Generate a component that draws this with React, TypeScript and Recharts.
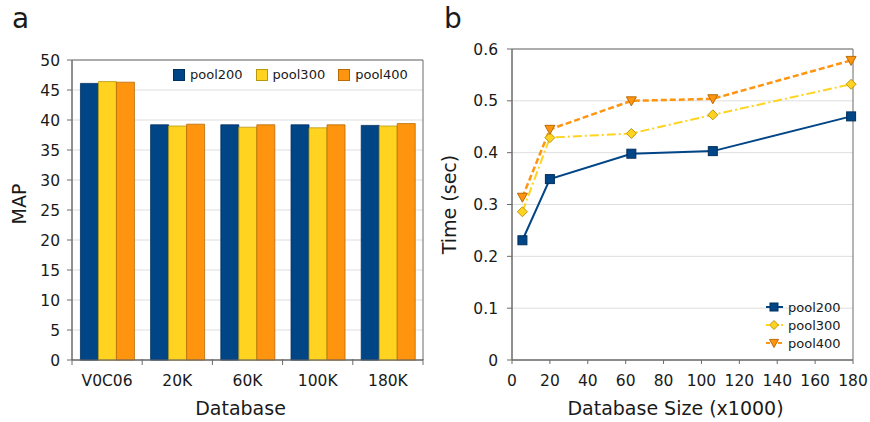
import React from "react"
import {
  BarChart,
  Bar,
  LineChart,
  Line,
  XAxis,
  YAxis,
  CartesianGrid,
  Legend,
  ReferenceArea,
} from "recharts"

// panel a: MAP per database
const databases = ["V0C06", "20K", "60K", "100K", "180K"]
const mapPool200 = [46.1, 39.2, 39.2, 39.2, 39.1]
const mapPool300 = [46.4, 39.0, 38.8, 38.7, 39.0]
const mapPool400 = [46.3, 39.3, 39.2, 39.2, 39.4]
const mapTicks = [0, 5, 10, 15, 20, 25, 30, 35, 40, 45, 50]

// panel b: query time vs database size (x1000)
const dbSizes = [5.5, 20, 63, 106, 179]
const timePool200 = [0.231, 0.349, 0.398, 0.403, 0.47]
const timePool300 = [0.286, 0.429, 0.437, 0.473, 0.532]
const timePool400 = [0.314, 0.445, 0.5, 0.504, 0.578]
const timeTicks = [0, 0.1, 0.2, 0.3, 0.4, 0.5, 0.6]
const sizeTicks = [0, 20, 40, 60, 80, 100, 120, 140, 160, 180]

const seriesNames = ["pool200", "pool300", "pool400"]

const BLUE = "#004586"
const YELLOW = "#ffd320"
const ORANGE = "#ff950e"
const BLUE_EDGE = "#00305e"
const YELLOW_EDGE = "#b8980f"
const ORANGE_EDGE = "#b86a08"
const AXIS = "#6a6a6a"
const GRID = "#dedede"
const INK = "#1a1a1a"
const FONT = "'DejaVu Sans', sans-serif"

const barData = databases.map((db, i) => ({
  db,
  pool200: mapPool200[i],
  pool300: mapPool300[i],
  pool400: mapPool400[i],
}))

const lineData = dbSizes.map((size, i) => ({
  size,
  pool200: timePool200[i],
  pool300: timePool300[i],
  pool400: timePool400[i],
}))

const CHART_W = 440
const CHART_H = 422
const A_YAXIS_W = 72
const A_MARGIN = { top: 60, right: 17, bottom: 0, left: 0 }
const A_BAND = (CHART_W - A_MARGIN.right - A_YAXIS_W) / databases.length

const B_YAXIS_W = 82
const B_MARGIN = { top: 49, right: 17, bottom: 0, left: 0 }

const tickStyle = { fontSize: 15.5, fill: INK, fontFamily: FONT }

// category labels with tick marks on the band edges
function CategoryTick(props: any) {
  const { x, y, payload, index } = props
  const half = A_BAND / 2
  return (
    <g>
      <line x1={x - half} x2={x - half} y1={y - 1} y2={y + 5} stroke={AXIS} />
      {index === databases.length - 1 && (
        <line x1={x + half} x2={x + half} y1={y - 1} y2={y + 5} stroke={AXIS} />
      )}
      <text x={x} y={y + 26} textAnchor="middle" {...tickStyle}>
        {payload.value}
      </text>
    </g>
  )
}

function SquareMark({ cx, cy, size = 9 }: any) {
  return (
    <rect
      x={cx - size / 2}
      y={cy - size / 2}
      width={size}
      height={size}
      fill={BLUE}
      stroke={BLUE_EDGE}
      strokeWidth={1}
    />
  )
}

function DiamondMark({ cx, cy, r = 5 }: any) {
  return (
    <polygon
      points={`${cx},${cy - r} ${cx + r},${cy} ${cx},${cy + r} ${cx - r},${cy}`}
      fill={YELLOW}
      stroke={YELLOW_EDGE}
      strokeWidth={1}
    />
  )
}

function TriangleMark({ cx, cy, r = 5 }: any) {
  return (
    <polygon
      points={`${cx - r},${cy - r * 0.8} ${cx + r},${cy - r * 0.8} ${cx},${cy + r}`}
      fill={ORANGE}
      stroke={ORANGE_EDGE}
      strokeWidth={1}
    />
  )
}

function BarLegend() {
  const colors = [
    [BLUE, BLUE_EDGE],
    [YELLOW, YELLOW_EDGE],
    [ORANGE, ORANGE_EDGE],
  ]
  return (
    <div style={{ display: "flex", alignItems: "center", fontFamily: FONT, fontSize: 13, color: INK, whiteSpace: "nowrap" }}>
      {seriesNames.map((name, i) => (
        <div key={name} style={{ display: "flex", alignItems: "center", marginRight: 13 }}>
          <span
            style={{
              display: "inline-block",
              width: 10,
              height: 10,
              background: colors[i][0],
              border: `1px solid ${colors[i][1]}`,
              marginRight: 5,
            }}
          />
          {name}
        </div>
      ))}
    </div>
  )
}

function LineLegend() {
  const marks = [
    { line: BLUE, dash: undefined, mark: <SquareMark cx={8} cy={7} size={8} /> },
    { line: YELLOW, dash: "3 2", mark: <DiamondMark cx={8} cy={7} r={4.5} /> },
    { line: ORANGE, dash: "4 2", mark: <TriangleMark cx={8} cy={7} r={4.5} /> },
  ]
  return (
    <div style={{ fontFamily: FONT, fontSize: 13, color: INK, whiteSpace: "nowrap" }}>
      {seriesNames.map((name, i) => (
        <div key={name} style={{ display: "flex", alignItems: "center", height: 18 }}>
          <svg width={17} height={14} style={{ marginRight: 5 }}>
            <line x1={0} x2={17} y1={7} y2={7} stroke={marks[i].line} strokeWidth={2} strokeDasharray={marks[i].dash} />
            {marks[i].mark}
          </svg>
          {name}
        </div>
      ))}
    </div>
  )
}

function MapChart() {
  return (
    <BarChart
      width={CHART_W}
      height={CHART_H}
      data={barData}
      margin={A_MARGIN}
      barCategoryGap="12%"
      barGap={0}
    >
      <CartesianGrid vertical={false} stroke={GRID} />
      <XAxis
        dataKey="db"
        height={62}
        stroke={AXIS}
        tickLine={false}
        tickSize={0}
        tickMargin={0}
        tick={<CategoryTick />}
        interval={0}
        label={{
          content: ({ viewBox }: any) => (
            <text
              x={viewBox.x + viewBox.width / 2 - 7}
              y={viewBox.y + 55}
              textAnchor="middle"
              fontFamily={FONT}
              fontSize={19}
              fill={INK}
            >
              Database
            </text>
          ),
        }}
      />
      <YAxis
        width={A_YAXIS_W}
        domain={[0, 50]}
        ticks={mapTicks}
        interval={0}
        stroke={AXIS}
        tickSize={5}
        tickMargin={7}
        tick={tickStyle}
        label={{
          content: ({ viewBox }: any) => (
            <text
              transform={`translate(${viewBox.x + 19}, ${viewBox.y + viewBox.height / 2 - 6}) rotate(-90)`}
              textAnchor="middle"
              dominantBaseline="central"
              fontFamily={FONT}
              fontSize={19}
              fill={INK}
            >
              MAP
            </text>
          ),
        }}
      />
      <ReferenceArea y1={0} y2={50} fill="none" stroke={AXIS} ifOverflow="visible" />
      <Legend
        layout="horizontal"
        verticalAlign="middle"
        align="center"
        content={<BarLegend />}
        wrapperStyle={{ left: 173, top: 67, width: "auto" }}
      />
      <Bar dataKey="pool200" name="pool200" fill={BLUE} stroke={BLUE_EDGE} strokeWidth={0.8} isAnimationActive={false} />
      <Bar dataKey="pool300" name="pool300" fill={YELLOW} stroke={YELLOW_EDGE} strokeWidth={0.8} isAnimationActive={false} />
      <Bar dataKey="pool400" name="pool400" fill={ORANGE} stroke={ORANGE_EDGE} strokeWidth={0.8} isAnimationActive={false} />
    </BarChart>
  )
}

function TimeChart() {
  return (
    <LineChart width={CHART_W} height={CHART_H} data={lineData} margin={B_MARGIN}>
      <CartesianGrid vertical={false} stroke={GRID} />
      <XAxis
        dataKey="size"
        type="number"
        domain={[0, 180]}
        ticks={sizeTicks}
        interval={0}
        height={62}
        stroke={AXIS}
        tickSize={4}
        tickMargin={11}
        tick={tickStyle}
        label={{
          content: ({ viewBox }: any) => (
            <text
              x={viewBox.x + viewBox.width / 2 - 7}
              y={viewBox.y + 55}
              textAnchor="middle"
              fontFamily={FONT}
              fontSize={19}
              fill={INK}
            >
              Database Size (x1000)
            </text>
          ),
        }}
      />
      <YAxis
        width={B_YAXIS_W}
        domain={[0, 0.6]}
        ticks={timeTicks}
        interval={0}
        stroke={AXIS}
        tickSize={5}
        tickMargin={9}
        tick={tickStyle}
        label={{
          content: ({ viewBox }: any) => (
            <text
              transform={`translate(${viewBox.x + 19}, ${viewBox.y + viewBox.height / 2}) rotate(-90)`}
              textAnchor="middle"
              dominantBaseline="central"
              fontFamily={FONT}
              fontSize={19}
              fill={INK}
            >
              Time (sec)
            </text>
          ),
        }}
      />
      <ReferenceArea y1={0} y2={0.6} x1={0} x2={180} fill="none" stroke={AXIS} ifOverflow="visible" />
      <Legend
        layout="vertical"
        verticalAlign="middle"
        align="center"
        content={<LineLegend />}
        wrapperStyle={{ left: 336, top: 298, width: "auto" }}
      />
      <Line
        dataKey="pool200"
        name="pool200"
        stroke={BLUE}
        strokeWidth={2}
        dot={(p: any) => <SquareMark key={p.index} cx={p.cx} cy={p.cy} />}
        isAnimationActive={false}
      />
      <Line
        dataKey="pool300"
        name="pool300"
        stroke={YELLOW}
        strokeWidth={2}
        strokeDasharray="9 3 2 3"
        dot={(p: any) => <DiamondMark key={p.index} cx={p.cx} cy={p.cy} />}
        isAnimationActive={false}
      />
      <Line
        dataKey="pool400"
        name="pool400"
        stroke={ORANGE}
        strokeWidth={2.5}
        strokeDasharray="6 3"
        dot={(p: any) => <TriangleMark key={p.index} cx={p.cx} cy={p.cy} />}
        isAnimationActive={false}
      />
    </LineChart>
  )
}

const panelLetter: React.CSSProperties = {
  position: "absolute",
  top: 0,
  fontFamily: FONT,
  fontSize: 28,
  lineHeight: "38px",
  color: INK,
}

export default function App() {
  return (
    <div
      style={{
        position: "absolute",
        left: 0,
        top: 0,
        width: 870,
        height: 422,
        background: "#fff",
        overflow: "hidden",
      }}
    >
      <div style={{ position: "absolute", left: 0, top: 0 }}>
        <MapChart />
      </div>
      <div style={{ position: "absolute", left: 430, top: 0 }}>
        <TimeChart />
      </div>
      <div style={{ ...panelLetter, left: 12 }}>a</div>
      <div style={{ ...panelLetter, left: 444 }}>b</div>
    </div>
  )
}
